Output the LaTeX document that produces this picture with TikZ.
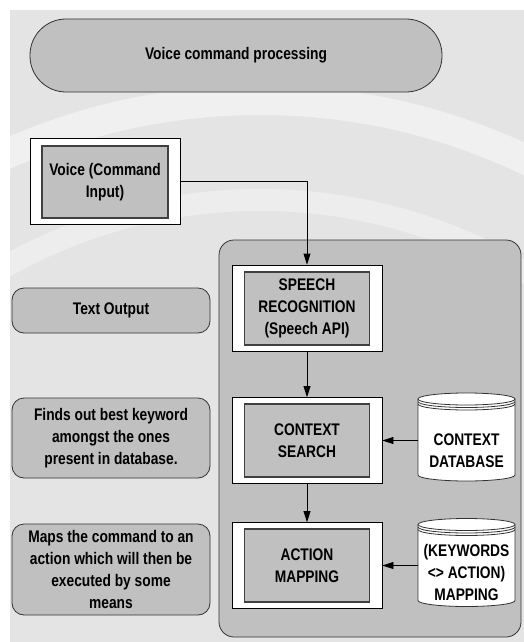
\documentclass[tikz,border=0pt]{standalone}
\usepackage{fontspec}
\setmainfont[FakeStretch=0.82]{Liberation Sans}
\usetikzlibrary{arrows.meta}
\definecolor{boxgrey}{HTML}{C0C0C0}
\definecolor{bggrey}{HTML}{E4E4E4}

\begin{document}
\begin{tikzpicture}[x=1pt,y=-1pt,
  txt/.style={font=\fontsize{16.8}{22}\selectfont\bfseries, align=center, text=black},
  pill/.style={txt, draw=black!80, fill=boxgrey, line width=0.8pt, rounded corners=12pt, inner sep=0pt},
  outerbox/.style={draw=black, fill=white, line width=0.8pt, minimum width=150pt, minimum height=86pt, inner sep=0pt},
  innerbox/.style={txt, draw=black!75, fill=boxgrey, line width=1.2pt, minimum width=125pt, minimum height=73pt, inner sep=0pt},
  dbtext/.style={txt, minimum width=97pt, minimum height=60pt, inner sep=0pt},
  cyl/.style={draw=black!80, fill=white, line width=0.8pt},
  flow/.style={-{Triangle[length=11pt,width=7pt]}, line width=0.8pt, black}]

\useasboundingbox (0,0) rectangle (524,642);
\fill[bggrey] (10,10) rectangle (524,642);
\begin{scope}
\clip (10,10) rectangle (524,642);
\draw[white, opacity=.45, line width=30pt] (260,720) circle[radius=620pt];
\draw[white, opacity=.35, line width=22pt] (260,720) circle[radius=520pt];
\end{scope}

\node[pill, minimum width=412pt, minimum height=73pt, rounded corners=36pt] (title) at (236,55.5) {Voice command processing};

\node[outerbox] (voiceout) at (105,181.5) {};
\node[innerbox, minimum width=126pt, minimum height=72pt] (voice) at (105,182) {Voice (Command\\Input)};

\node[pill, minimum width=198pt, minimum height=45pt] (textout) at (111,310.5) {Text Output};
\node[pill, minimum width=198pt, minimum height=80pt] (finds) at (111,438) {Finds out best keyword\\amongst the ones\\present in database.};
\node[pill, minimum width=198pt, minimum height=91pt] (maps) at (111,569.5) {Maps the command to an\\action which will then be\\executed by some\\means};

\node[draw=black!80, fill=boxgrey, line width=0.8pt, rounded corners=15pt, minimum width=302pt, minimum height=397pt] (proc) at (370,438.5) {};

\node[outerbox] (speechout) at (307,308) {};
\node[innerbox] (speech) at (307,308.5) {SPEECH\\RECOGNITION\\(Speech API)};
\node[outerbox] (searchout) at (307,440.5) {};
\node[innerbox] (search) at (307,440.5) {CONTEXT\\SEARCH};
\node[outerbox] (actionout) at (307,565.5) {};
\node[innerbox] (action) at (307,565.5) {ACTION\\MAPPING};

\foreach \cy in {437,562.5}{
  \draw[cyl] (418,\cy-38) -- (418,\cy+38) arc[start angle=180, end angle=360, x radius=48.5pt, y radius=6pt]
    -- (515,\cy-38) arc[start angle=0, end angle=180, x radius=48.5pt, y radius=6pt] -- cycle;
  \foreach \dy in {0,2.5,5}
    \draw[cyl, fill=none] (418,\cy-38+\dy) arc[start angle=180, end angle=360, x radius=48.5pt, y radius=6pt];
}
\node[dbtext] (ctxdb) at (466.5,451) {CONTEXT\\DATABASE};
\node[dbtext] (mapdb) at (466.5,572) {(KEYWORDS\\<> ACTION)\\MAPPING};

\draw[flow] (voiceout.east) -| (speechout.north);
\draw[flow] (speechout) -- (searchout);
\draw[flow] (searchout) -- (actionout);
\draw[flow] (ctxdb.west |- searchout.east) -- (searchout.east);
\draw[flow] (mapdb.west |- actionout.east) -- (actionout.east);

\end{tikzpicture}
\end{document}
